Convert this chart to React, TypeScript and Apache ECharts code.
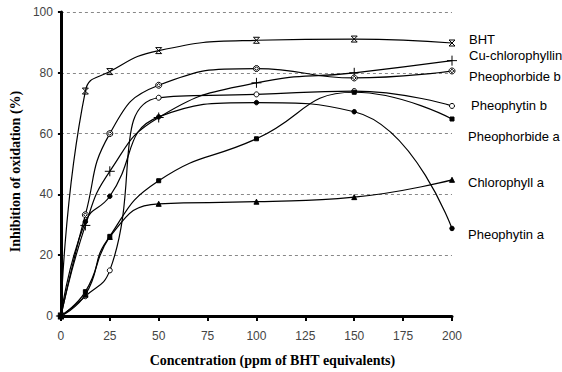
import React, { useEffect, useRef } from "react";
import * as echarts from "echarts";

const concentrations = [0, 12.5, 25, 50, 100, 150, 200];
const seriesNames = [
  "BHT",
  "Cu-chlorophyllin",
  "Pheophorbide b",
  "Pheophytin b",
  "Pheophorbide a",
  "Chlorophyll a",
  "Pheophytin a",
];
const bht = [0, 74, 80.4, 87.3, 90.7, 91.1, 89.8];
const cuChlorophyllin = [0, 29.8, 47.6, 65.3, 76.7, 80, 84];
const pheophorbideB = [0, 33.3, 60, 75.9, 81.4, 78.3, 80.6];
const pheophytinB = [0, 6.5, 15, 71.8, 72.9, 74, 69.1];
const pheophorbideA = [0, 8, 26.2, 44.5, 58.3, 73.6, 64.8];
const chlorophyllA = [0, 7, 26, 36.9, 37.6, 39.1, 44.8];
const pheophytinA = [0, 31, 39.4, 65.5, 70.2, 67.2, 28.8];
const xTicks = [0, 25, 50, 75, 100, 125, 150, 175, 200];
const yTicks = [0, 20, 40, 60, 80, 100];

const valuesList = [bht, cuChlorophyllin, pheophorbideB, pheophytinB, pheophorbideA, chlorophyllA, pheophytinA];

const symbols = [
  "path://M0,0 L10,0 M0,12 L10,12 M0,0 L10,12 M10,0 L0,12",
  "path://M5,0 L5,12 M0,6 L10,6",
  "path://M5,0 A5,5 0 1,1 4.99,0 Z M5,2 L8,5 L5,8 L2,5 Z",
  "circle",
  "rect",
  "triangle",
  "circle",
];
const symbolSizes = [6, 10, 6, 5, 4, 5, 4.5];
const filled = [false, false, false, false, true, true, true];
const labelOffsets: [number, number][] = [
  [9, -4],
  [9, -5],
  [9, 6],
  [11, 0],
  [8, 17],
  [8, 3],
  [8, 6],
];

export default function App() {
  const ref = useRef<HTMLDivElement>(null);
  useEffect(() => {
    if (!ref.current) return;
    const chart = echarts.init(ref.current, undefined, { renderer: "svg" });
    const series = seriesNames.map((name, i) => ({
      name,
      type: "line",
      smooth: 0.5,
      smoothConstraint: false,
      data: concentrations.map((c, j) => [c, valuesList[i][j]]),
      symbol: symbols[i],
      symbolSize: symbolSizes[i],
      showAllSymbol: true,
      lineStyle: { color: "#000", width: 1.2 },
      itemStyle: {
        color: filled[i] ? "#000" : "#fff",
        borderColor: "#000",
        borderWidth: 1,
      },
      endLabel: {
        show: true,
        formatter: name,
        offset: labelOffsets[i],
        color: "#000",
        fontFamily: "Liberation Sans, Arial, sans-serif",
        fontSize: 13,
      },
      z: 2,
    }));
    chart.setOption({
      animation: false,
      backgroundColor: "#fff",
      grid: { left: 60, right: 110, top: 12, bottom: 53, containLabel: false },
      xAxis: {
        type: "value",
        min: xTicks[0],
        max: xTicks[xTicks.length - 1],
        interval: 25,
        name: "Concentration (ppm of BHT equivalents)",
        nameLocation: "middle",
        nameGap: 37,
        nameTextStyle: {
          fontFamily: "Liberation Serif, Times New Roman, serif",
          fontWeight: "bold",
          fontSize: 14,
          color: "#000",
          padding: [0, 0, 0, 32],
        },
        axisLine: { show: true, lineStyle: { color: "#000", width: 3 } },
        axisTick: { show: true, inside: false, length: 5, lineStyle: { color: "#000", width: 2 } },
        axisLabel: {
          margin: 14,
          color: "#444",
          fontFamily: "Liberation Sans, Arial, sans-serif",
          fontSize: 12,
        },
        splitLine: { show: false },
      },
      yAxis: {
        type: "value",
        min: yTicks[0],
        max: yTicks[yTicks.length - 1],
        interval: 20,
        name: "Inhibition of oxidation (%)",
        nameLocation: "middle",
        nameGap: 36,
        nameTextStyle: {
          fontFamily: "Liberation Serif, Times New Roman, serif",
          fontWeight: "bold",
          fontSize: 14,
          color: "#000",
          padding: [0, 15, 0, 0],
        },
        axisLine: { show: true, lineStyle: { color: "#000", width: 3 } },
        axisTick: { show: true, length: 3, lineStyle: { color: "#000", width: 2 } },
        axisLabel: {
          margin: 8,
          color: "#444",
          fontFamily: "Liberation Sans, Arial, sans-serif",
          fontSize: 12,
        },
        splitLine: { show: true, lineStyle: { color: "#888", type: [3, 3], width: 1 } },
      },
      series,
    });
    return () => chart.dispose();
  }, []);
  return (
    <div
      ref={ref}
      style={{ position: "fixed", left: 0, top: 0, width: 562, height: 372 }}
    />
  );
}
